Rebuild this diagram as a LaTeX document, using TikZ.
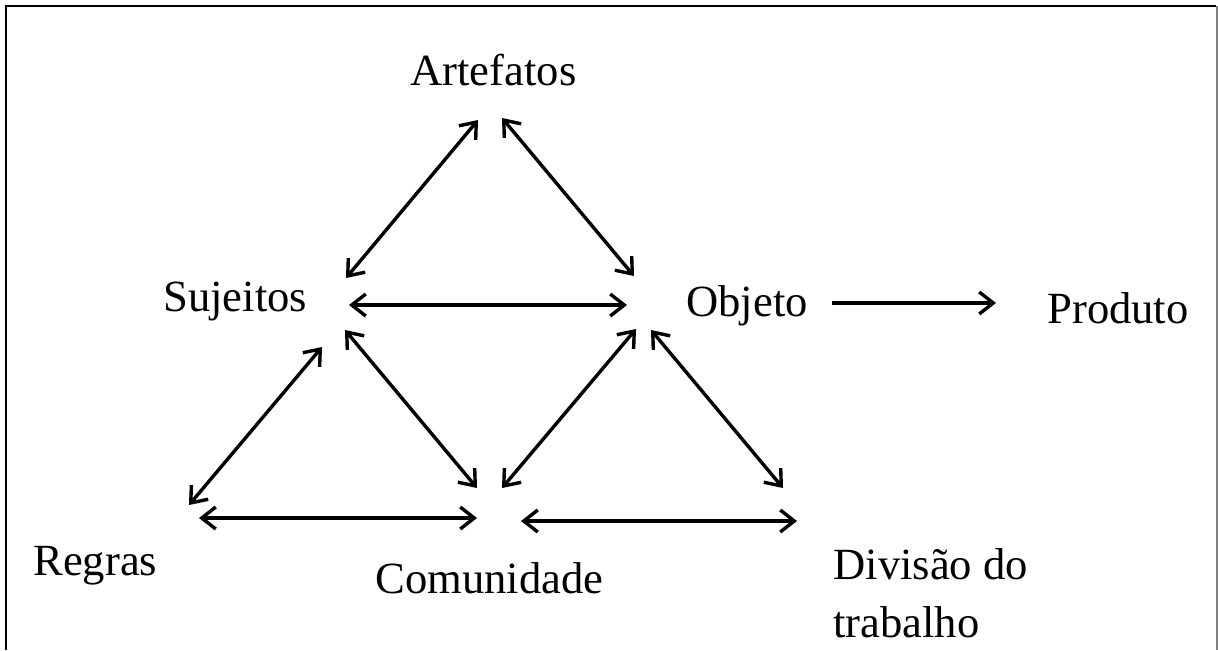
\documentclass[tikz,border=0pt]{standalone}
\usepackage{fontspec}
\setmainfont{Liberation Serif}
\usetikzlibrary{arrows.meta}
\tikzset{
  lbl/.style={inner sep=0pt, anchor=base west, font=\fontsize{22.3}{29}\selectfont},
  rel/.style={line width=1.7pt, {Straight Barb[length=7pt,width=11pt]}-{Straight Barb[length=7pt,width=11pt]}},
  fwd/.style={line width=1.7pt, -{Straight Barb[length=7pt,width=11pt]}}
}
\begin{document}
\begin{tikzpicture}[x=0.5pt,y=-0.5pt]
\useasboundingbox (0,0) rectangle (1218,650);
\draw[line width=1.4pt] (6,650) -- (6,6) -- (1216,6);
\draw[line width=1pt, gray] (1216.5,6) -- (1216.5,650);
% labels
\node [lbl] (art) at (410,85) {Artefatos};
\node [lbl] (suj) at (163,311) {Sujeitos};
\node [lbl] (obj) at (686,316) {Objeto};
\node [lbl] (prod) at (1047,323) {Produto};
\node [lbl] (reg) at (33,575) {Regras};
\node [lbl] (com) at (375,593) {Comunidade};
\node [lbl, align=left, anchor=north west] (div) at (833,548) {Divisão do\\trabalho};
% arrow ends
\coordinate (as) at (478,120);
\coordinate (sa) at (346,278);
\coordinate (ao) at (502,118);
\coordinate (oa) at (634,276);
\coordinate (so) at (349,305);
\coordinate (os) at (627,305);
\coordinate (op) at (832,303);
\coordinate (po) at (996,303);
\coordinate (sr) at (322,347);
\coordinate (rs) at (189,505);
\coordinate (sc) at (345,330);
\coordinate (cs) at (477,488);
\coordinate (oc) at (636,329);
\coordinate (co) at (502,488);
\coordinate (od) at (651,330);
\coordinate (do) at (783,488);
\coordinate (rc) at (199,518);
\coordinate (cr) at (477,518);
\coordinate (cd) at (521,521);
\coordinate (dc) at (797,521);
% relations
\draw [rel] (as) -- (sa);
\draw [rel] (ao) -- (oa);
\draw [rel] (so) -- (os);
\draw [fwd] (op) -- (po);
\draw [rel] (sr) -- (rs);
\draw [rel] (sc) -- (cs);
\draw [rel] (oc) -- (co);
\draw [rel] (od) -- (do);
\draw [rel] (rc) -- (cr);
\draw [rel] (cd) -- (dc);
\end{tikzpicture}
\end{document}
